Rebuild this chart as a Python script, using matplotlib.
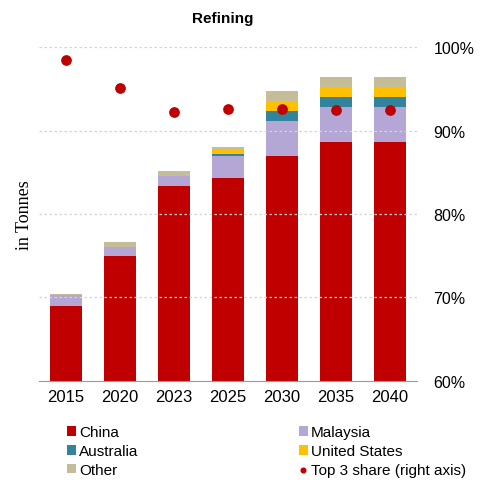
import numpy as np
import matplotlib
matplotlib.use('Agg')
import matplotlib.pyplot as plt

plt.rcParams['font.family'] = ['Liberation Sans', 'DejaVu Sans']

years = ['2015', '2020', '2023', '2025', '2030', '2035', '2040']
# stacked volumes (arbitrary tonnage units)
china = [22.5, 37.4, 58.4, 60.8, 67.4, 71.6, 71.6]
malaysia = [3.2, 2.7, 3.0, 6.6, 10.4, 10.4, 10.4]
australia = [0.0, 0.0, 0.0, 0.6, 3.0, 3.0, 3.0]
united_states = [0.0, 0.0, 0.0, 1.2, 3.0, 3.0, 3.0]
other = [0.4, 1.5, 1.5, 0.9, 3.0, 3.0, 3.0]
top3_share = [98.4, 95.1, 92.2, 92.6, 92.6, 92.5, 92.5]

series = [('China', china, '#C00000'),
          ('Malaysia', malaysia, '#B4A7D6'),
          ('Australia', australia, '#31849B'),
          ('United States', united_states, '#FFC000'),
          ('Other', other, '#C4BD97')]

fig = plt.figure(figsize=(4.94, 4.81), dpi=100)
ax = fig.add_axes([0.079, 0.206, 0.765, 0.694])
x = np.arange(len(years))

bottom = np.zeros(len(years))
handles = {}
for name, vals, col in series:
    b = ax.bar(x, vals, 0.6, bottom=bottom, color=col, label=name, zorder=2)
    handles[name] = b
    bottom += np.array(vals)

ax.set_ylim(0, 100)
ax.set_xlim(-0.5, 6.5)
ax.set_yticks([])
ax.set_xticks(x)
ax.set_xticklabels(years, fontsize=12)
ax.tick_params(axis='x', length=0, pad=6)
for s in ['top', 'right', 'left']:
    ax.spines[s].set_visible(False)
ax.spines['bottom'].set_color('#999999')
ax.set_ylabel('in Tonnes', family='Liberation Serif', fontsize=13, labelpad=4)

ax2 = ax.twinx()
ax2.set_ylim(60, 100)
ax2.set_yticks([60, 70, 80, 90, 100])
ax2.set_yticklabels(['60%', '70%', '80%', '90%', '100%'], fontsize=11.5)
ax2.tick_params(axis='y', length=0, pad=12)
for s in ['top', 'right', 'left', 'bottom']:
    ax2.spines[s].set_visible(False)
for v in [70, 80, 90, 100]:
    ax2.axhline(v, color='#d4d4d4', lw=0.9, ls=(0, (2, 2)), zorder=1)
dots = ax2.scatter(x, top3_share, s=45, color='#C00000', zorder=5,
                   label='Top 3 share (right axis)')

fig.text(0.45, 0.96, 'Refining', ha='center', va='center', fontsize=11, fontweight='bold')

kw = dict(frameon=False, fontsize=11, handlelength=0.6, handleheight=0.6,
          handletextpad=0.2, labelspacing=0.32, borderaxespad=0, borderpad=0)
fig.legend([handles['China'], handles['Australia'], handles['Other']],
           ['China', 'Australia', 'Other'],
           loc='upper left', bbox_to_anchor=(0.135, 0.114), **kw)
fig.legend([handles['Malaysia'], handles['United States'], dots],
           ['Malaysia', 'United States', 'Top 3 share (right axis)'],
           loc='upper left', bbox_to_anchor=(0.605, 0.114), markerscale=0.5, **kw)

fig.savefig('out.png', dpi=100)
